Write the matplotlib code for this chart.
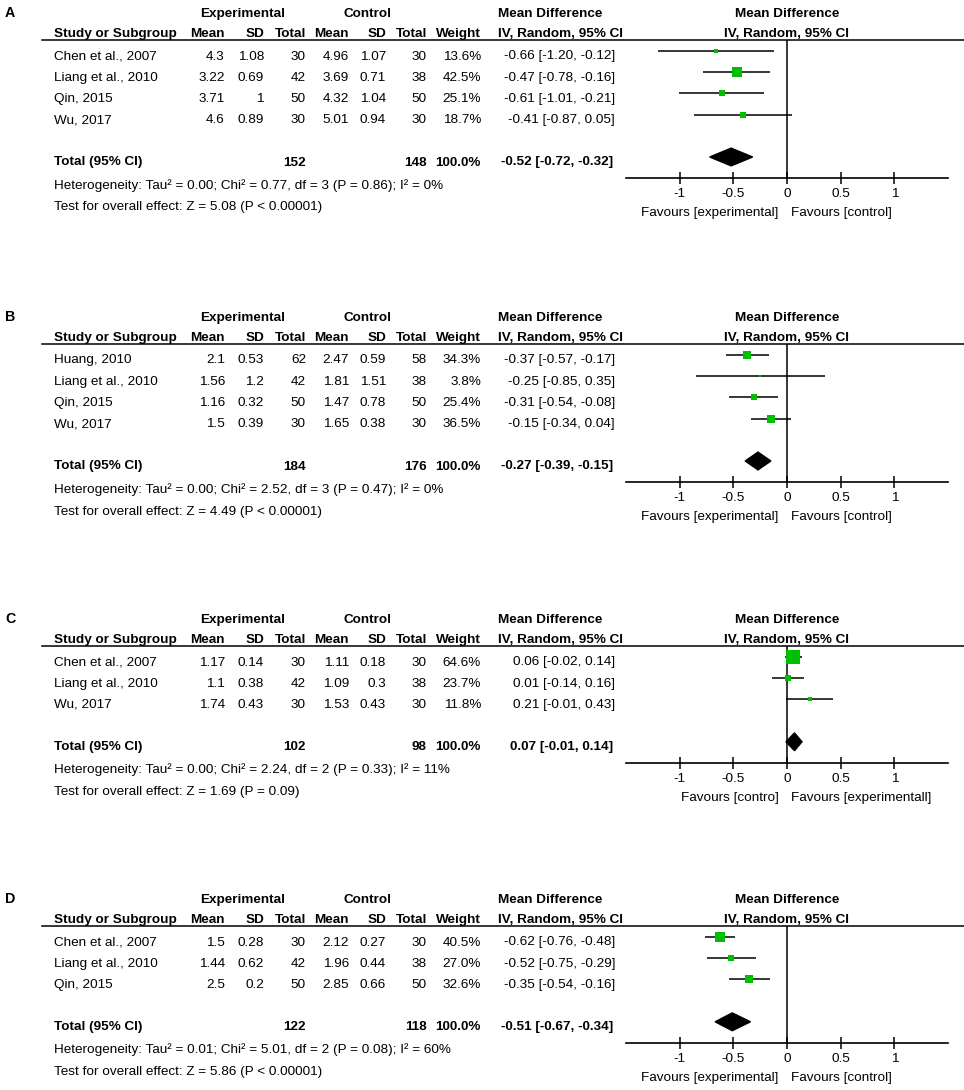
import matplotlib.pyplot as plt
from matplotlib.lines import Line2D
from matplotlib.patches import Polygon

plt.rcParams['font.family'] = ['Liberation Sans', 'DejaVu Sans']

# ---- data, one entry per panel (A, B, C, D) ----
labels = ['A', 'B', 'C', 'D']

studies = [
    ['Chen et al., 2007', 'Liang et al., 2010', 'Qin, 2015', 'Wu, 2017'],
    ['Huang, 2010', 'Liang et al., 2010', 'Qin, 2015', 'Wu, 2017'],
    ['Chen et al., 2007', 'Liang et al., 2010', 'Wu, 2017'],
    ['Chen et al., 2007', 'Liang et al., 2010', 'Qin, 2015'],
]
exp_mean = [[4.3, 3.22, 3.71, 4.6], [2.1, 1.56, 1.16, 1.5], [1.17, 1.1, 1.74], [1.5, 1.44, 2.5]]
exp_sd = [[1.08, 0.69, 1, 0.89], [0.53, 1.2, 0.32, 0.39], [0.14, 0.38, 0.43], [0.28, 0.62, 0.2]]
exp_n = [[30, 42, 50, 30], [62, 42, 50, 30], [30, 42, 30], [30, 42, 50]]
ctl_mean = [[4.96, 3.69, 4.32, 5.01], [2.47, 1.81, 1.47, 1.65], [1.11, 1.09, 1.53], [2.12, 1.96, 2.85]]
ctl_sd = [[1.07, 0.71, 1.04, 0.94], [0.59, 1.51, 0.78, 0.38], [0.18, 0.3, 0.43], [0.27, 0.44, 0.66]]
ctl_n = [[30, 38, 50, 30], [58, 38, 50, 30], [30, 38, 30], [30, 38, 50]]
weights = [[13.6, 42.5, 25.1, 18.7], [34.3, 3.8, 25.4, 36.5], [64.6, 23.7, 11.8], [40.5, 27.0, 32.6]]
md = [[-0.66, -0.47, -0.61, -0.41], [-0.37, -0.25, -0.31, -0.15], [0.06, 0.01, 0.21], [-0.62, -0.52, -0.35]]
ci_lo = [[-1.20, -0.78, -1.01, -0.87], [-0.57, -0.85, -0.54, -0.34], [-0.02, -0.14, -0.01], [-0.76, -0.75, -0.54]]
ci_hi = [[-0.12, -0.16, -0.21, 0.05], [-0.17, 0.35, -0.08, 0.04], [0.14, 0.16, 0.43], [-0.48, -0.29, -0.16]]

tot_exp = [152, 184, 102, 122]
tot_ctl = [148, 176, 98, 118]
tot_md = [-0.52, -0.27, 0.07, -0.51]
tot_lo = [-0.72, -0.39, -0.01, -0.67]
tot_hi = [-0.32, -0.15, 0.14, -0.34]

heterogeneity = [
    'Heterogeneity: Tau² = 0.00; Chi² = 0.77, df = 3 (P = 0.86); I² = 0%',
    'Heterogeneity: Tau² = 0.00; Chi² = 2.52, df = 3 (P = 0.47); I² = 0%',
    'Heterogeneity: Tau² = 0.00; Chi² = 2.24, df = 2 (P = 0.33); I² = 11%',
    'Heterogeneity: Tau² = 0.01; Chi² = 5.01, df = 2 (P = 0.08); I² = 60%',
]
overall = [
    'Test for overall effect: Z = 5.08 (P < 0.00001)',
    'Test for overall effect: Z = 4.49 (P < 0.00001)',
    'Test for overall effect: Z = 1.69 (P = 0.09)',
    'Test for overall effect: Z = 5.86 (P < 0.00001)',
]
favours_left = ['Favours [experimental]', 'Favours [experimental]', 'Favours [contro]', 'Favours [experimental]']
favours_right = ['Favours [control]', 'Favours [control]', 'Favours [experimentall]', 'Favours [control]']

ticks = [-1, -0.5, 0, 0.5, 1]
tick_labels = ['-1', '-0.5', '0', '0.5', '1']

# ---- layout (pixels) ----
W, H = 964, 1090
FS = 9.7
GREEN = '#00bf00'
panel_top = [0, 304, 606, 886]
ROW = 21.2
ROW0 = 51      # centre of first marker row, panel-local px
BASE = 8.5     # text baseline below marker centre

fig = plt.figure(figsize=(W / 100, H / 100), dpi=100)


def fx(x):
    return x / W


def fy(y):
    return 1 - y / H


def fmt(v):
    return f"{v:g}"


def ci_text(m, lo, hi):
    return f"{m:.2f} [{lo:.2f}, {hi:.2f}]"


for p in range(4):
    top = panel_top[p]
    n = len(studies[p])

    def txt(x, y, s, ha='left', bold=False, size=FS):
        fig.text(fx(x), fy(top + y), s, ha=ha, va='baseline', fontsize=size,
                 fontweight='bold' if bold else 'normal')

    # headers
    txt(5, 17, labels[p], bold=True, size=FS + 0.6)
    txt(243, 17, 'Experimental', ha='center', bold=True)
    txt(367, 17, 'Control', ha='center', bold=True)
    txt(498, 17, 'Mean Difference', bold=True)
    txt(787, 17, 'Mean Difference', ha='center', bold=True)

    txt(54, 37, 'Study or Subgroup', bold=True)
    for x, s in zip([225, 264, 306, 349, 386, 427, 481],
                    ['Mean', 'SD', 'Total', 'Mean', 'SD', 'Total', 'Weight']):
        txt(x, 37, s, ha='right', bold=True)
    txt(498, 37, 'IV, Random, 95% CI', bold=True)
    txt(787, 37, 'IV, Random, 95% CI', ha='center', bold=True)

    fig.add_artist(Line2D([fx(42), fx(964)], [fy(top + 40)] * 2, color='black', lw=1.1))

    # study rows
    for i in range(n):
        yb = ROW0 + i * ROW + BASE
        txt(54, yb, studies[p][i])
        txt(225, yb, fmt(exp_mean[p][i]), ha='right')
        txt(264, yb, fmt(exp_sd[p][i]), ha='right')
        txt(306, yb, str(exp_n[p][i]), ha='right')
        txt(349, yb, fmt(ctl_mean[p][i]), ha='right')
        txt(386, yb, fmt(ctl_sd[p][i]), ha='right')
        txt(427, yb, str(ctl_n[p][i]), ha='right')
        txt(481, yb, f"{weights[p][i]:.1f}%", ha='right')
        txt(615, yb, ci_text(md[p][i], ci_lo[p][i], ci_hi[p][i]), ha='right')

    # total row
    yt = ROW0 + (n + 1) * ROW + BASE
    txt(54, yt, 'Total (95% CI)', bold=True)
    txt(306, yt, str(tot_exp[p]), ha='right', bold=True)
    txt(427, yt, str(tot_ctl[p]), ha='right', bold=True)
    txt(481, yt, '100.0%', ha='right', bold=True)
    txt(613, yt, ci_text(tot_md[p], tot_lo[p], tot_hi[p]), ha='right', bold=True)
    txt(54, yt + 23, heterogeneity[p])
    txt(54, yt + 45, overall[p])

    # forest plot
    ax_top = top + 40
    ax_bot = top + ROW0 + (n + 2) * ROW
    ax = fig.add_axes([fx(626), fy(ax_bot), (948 - 626) / W, (ax_bot - ax_top) / H])
    ax.set_xlim(-1.5, 1.5)
    ax.set_ylim(n + 2, -(ROW0 - 40) / ROW)
    for s in ['top', 'left', 'right']:
        ax.spines[s].set_visible(False)
    ax.spines['bottom'].set_linewidth(1.2)
    ax.set_yticks([])
    ax.set_xticks(ticks)
    ax.set_xticklabels(tick_labels)
    ax.tick_params(axis='x', direction='inout', length=8.5, width=1.1, pad=3, labelsize=FS)
    ax.patch.set_alpha(0)
    ax.axvline(0, color='black', lw=1.1)

    rows = list(range(n))
    ax.hlines(rows, ci_lo[p], ci_hi[p], color='black', lw=1.1)
    for i in rows:
        side = 1.5 + 0.2 * weights[p][i]
        ax.plot(md[p][i], i, marker='s', ms=side * 0.72, color=GREEN, mec=GREEN, mew=0)

    yd = n + 1
    h = 0.42
    ax.add_patch(Polygon([(tot_lo[p], yd), (tot_md[p], yd - h), (tot_hi[p], yd), (tot_md[p], yd + h)],
                         closed=True, color='black'))

    yf = n + 2 + 35 / ROW
    ax.text(-0.08, yf, favours_left[p], ha='right', va='center', fontsize=FS, clip_on=False)
    ax.text(0.04, yf, favours_right[p], ha='left', va='center', fontsize=FS, clip_on=False)

fig.savefig('out.png', dpi=100, facecolor='white')
